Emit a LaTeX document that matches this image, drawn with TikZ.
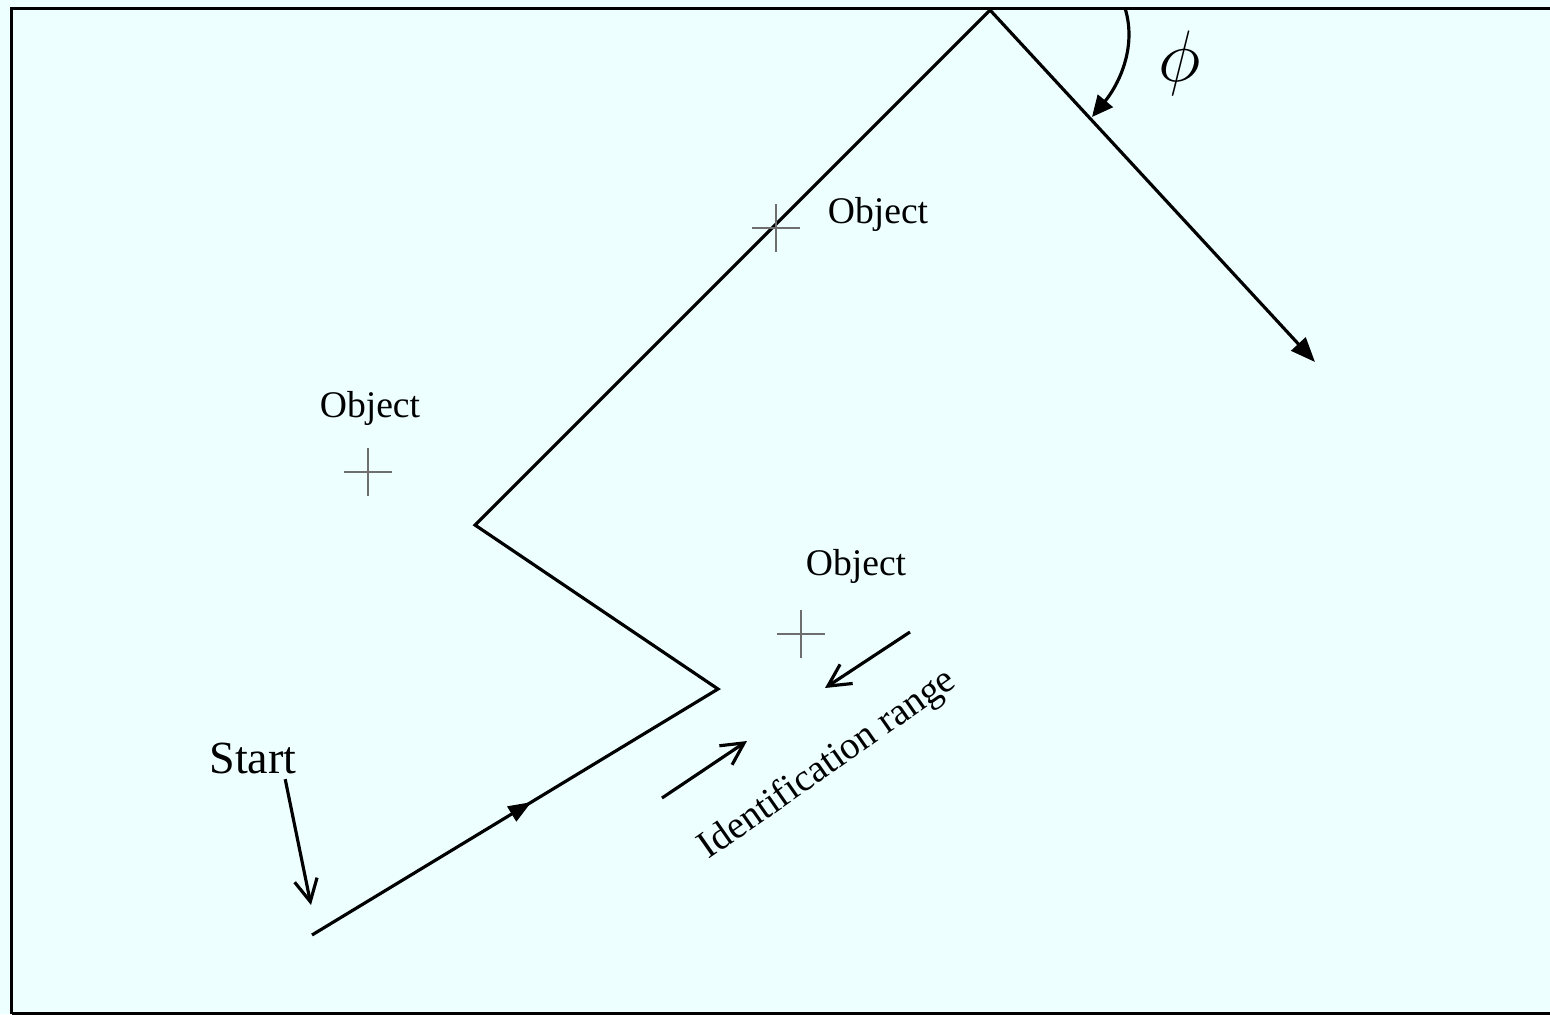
\documentclass[tikz,border=0pt]{standalone}
\usepackage{fontspec}
\setmainfont{Liberation Serif}
\usepackage{xcolor}
\usepackage{tikz}
\usetikzlibrary{positioning,arrows.meta,shapes.misc,decorations.markings}
\definecolor{PaleCyan}{RGB}{238,255,255}
\definecolor{MarkGray}{RGB}{110,110,110}

\begin{document}
\begin{tikzpicture}[x=0.01cm, y=-0.01cm,
  frame/.style={draw=black, line width=0.95pt},
  track/.style={draw=black, line width=0.9pt},
  pointer/.style={draw=black, line width=0.9pt, -{Straight Barb[length=6.3pt, width=6.5pt]}},
  objmark/.style={draw=MarkGray, cross out, rotate=45, minimum size=3.25mm, inner sep=0pt, line width=0.4pt},
  objlabel/.style={font=\fontsize{10.7}{12}\selectfont, inner sep=0pt}
]
\useasboundingbox (0,0) rectangle (1550,1014);
\fill[PaleCyan] (0,0) rectangle (1550,1014);
\begin{scope}
\clip (0,0) rectangle (1550,1014);
\draw[frame] (11.5,1013.5) -- (11.5,8.5) -- (1560,8.5);
\draw[frame] (11.5,1013.5) -- (1560,1013.5);
\end{scope}

% track corners
\coordinate (begin) at (312,935);
\coordinate (turnA) at (718,689);
\coordinate (turnB) at (475,525);
\coordinate (apex) at (990,10);
\coordinate (finish) at (1315,362);

\draw[track, -{Triangle[length=7pt, width=5.5pt]}] (begin) -- (turnA) -- (turnB) -- (apex) -- (finish);
\path[decorate, decoration={markings, mark=at position 0.54 with {\arrow{Triangle[length=6.5pt, width=5pt]}}}] (begin) -- (turnA);

% objects
\node[objmark] (objA) at (368,472) {};
\node[objmark] (objB) at (776,228) {};
\node[objmark] (objC) at (801,634) {};
\node[objlabel] (lblA) at (370,408) {Object};
\node[objlabel] (lblB) at (878,214) {Object};
\node[objlabel] (lblC) at (856,566) {Object};

% start
\node[font=\fontsize{13.1}{15}\selectfont, inner sep=0pt] (startlbl) at (253,758) {Start};
\coordinate (starttip) at (311,905);
\draw[pointer] ([xshift=-0.12cm, yshift=-0.05cm]startlbl.south east) -- (starttip);

% identification range
\coordinate (rangeAtail) at (910,632);
\coordinate (rangeAtip) at (825,688);
\coordinate (rangeBtail) at (662,798);
\coordinate (rangeBtip) at (747,741);
\draw[pointer] (rangeAtail) -- (rangeAtip);
\draw[pointer] (rangeBtail) -- (rangeBtip);
\node[font=\fontsize{11}{13}\selectfont, rotate=35, inner sep=0pt] (rangelbl) at (828,765) {Identification range};

% angle
\coordinate (arcbeg) at (1125,8);
\coordinate (arcend) at (1092,117);
\draw[line width=0.9pt, -{Triangle[length=6pt, width=5.5pt]}] (arcbeg) .. controls (1138,50) and (1116,88) .. (arcend);
\node[font=\fontsize{20}{22}\selectfont, inner sep=0pt] (philbl) at (1180,63) {$\phi$};
\end{tikzpicture}
\end{document}
